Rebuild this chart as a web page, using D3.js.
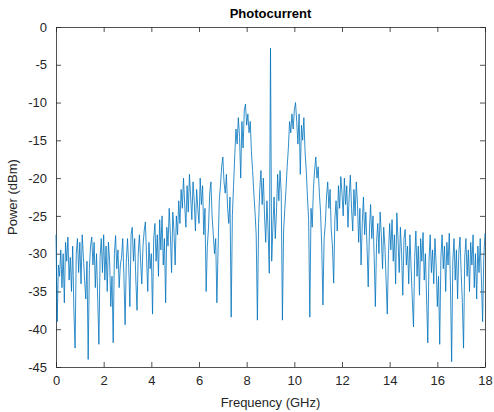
<html>
  <head>
    <meta charset="utf-8">
    <title>Photocurrent</title>
    <script src="https://cdnjs.cloudflare.com/ajax/libs/d3/7.8.5/d3.min.js"></script>
  </head>
  <body>
    <svg id="chart"></svg>

    <style>
      body {
        margin: 0;
        background: #fff;
        font-family: 'Liberation Sans', Arial, sans-serif;
      }
      #chart {
        display: block;
      }
      .axis path, .axis line {
        stroke: #262626;
        stroke-width: 0.8;
      }
      .axis text {
        fill: #262626;
        font-size: 13px;
        font-family: 'Liberation Sans', Arial, sans-serif;
      }
      .title {
        font-weight: bold;
        font-size: 13px;
        fill: #000;
      }
      .label {
        font-size: 13px;
        fill: #262626;
      }
    </style>

    <script>
      // Spectrum, one value every 0.05 GHz from 0 to 18 GHz (dBm)
      const freqStep = 0.05;
      const power = [
        // 0 - 0.95
        -27.5, -39.0, -31.5, -33.0, -29.5, -34.5, -30.0, -36.5, -28.5, -31.0,
        -27.8, -33.5, -30.5, -35.0, -29.0, -37.5, -42.5, -30.0, -28.0, -32.5,
        // 1 - 1.95
        -28.5, -34.0, -27.5, -30.5, -33.5, -36.0, -31.0, -44.0, -32.0, -29.0,
        -27.8, -31.5, -28.5, -34.5, -30.0, -36.0, -42.0, -30.5, -28.0, -32.5,
        // 2 - 2.95
        -27.5, -33.5, -29.0, -35.0, -28.5, -31.0, -37.0, -33.0, -41.8, -30.0,
        -27.6, -32.0, -29.5, -34.5, -31.5, -30.5, -28.0, -33.0, -39.4, -31.0,
        // 3 - 3.95
        -28.0, -31.5, -37.0, -27.5, -26.5, -31.0, -28.0, -33.5, -37.5, -30.0,
        -27.5, -31.0, -34.0, -29.0, -27.0, -25.8, -30.5, -35.0, -28.5, -32.0,
        // 4 - 4.95
        -30.0, -38.0, -28.0, -26.0, -31.0, -27.5, -33.0, -25.5, -29.5, -25.0,
        -31.5, -28.0, -36.5, -26.5, -29.0, -24.0, -27.5, -32.5, -24.5, -27.0,
        // 5 - 5.95
        -31.5, -25.0, -27.5, -23.0, -26.0, -21.5, -24.0, -20.0, -23.5, -26.5,
        -21.0, -24.5, -19.5, -22.5, -25.5, -20.5, -23.0, -27.0, -21.5, -24.0,
        // 6 - 6.95
        -26.0, -20.0, -23.5, -21.0, -27.5, -24.0, -35.0, -29.0, -26.5, -22.0,
        -20.5, -25.0, -27.5, -30.0, -28.0, -36.5, -29.5, -23.0, -21.0, -18.5,
        // 7 - 7.95
        -17.2, -20.5, -22.0, -19.5, -24.0, -26.0, -22.5, -38.4, -25.0, -21.0,
        -17.0, -13.5, -15.5, -12.0, -14.5, -20.0, -12.5, -16.0, -11.0, -10.2,
        // 8 - 8.95
        -13.0, -11.5, -14.0, -12.5, -16.5, -19.0, -22.0, -24.5, -27.5, -38.8,
        -26.0, -21.5, -19.0, -23.5, -20.0, -25.0, -28.5, -23.0, -27.0, -32.6,
        // 9 (carrier)
        -2.8,
        // 9.05 - 10
        -31.0, -26.5, -22.5, -28.0, -24.5, -19.5, -23.0, -19.0, -22.0, -38.8,
        -27.0, -24.0, -21.5, -18.5, -16.0, -12.5, -14.0, -11.5, -13.5, -11.0,
        // 10.05 - 11
        -10.0, -12.5, -15.5, -11.5, -19.5, -13.0, -15.0, -12.0, -16.5, -19.0,
        -22.5, -25.5, -38.4, -24.0, -26.5, -21.5, -19.0, -17.2, -20.0, -18.5,
        // 11.05 - 12
        -22.0, -24.5, -29.0, -36.8, -28.0, -26.0, -22.5, -20.5, -24.0, -21.5,
        -27.0, -29.0, -33.9, -25.5, -23.0, -27.0, -21.0, -24.0, -19.8, -22.0,
        // 12.05 - 13
        -25.0, -20.0, -23.5, -21.0, -26.5, -22.5, -19.6, -24.0, -27.0, -21.5,
        -25.0, -20.5, -23.5, -28.5, -24.0, -31.5, -26.0, -22.5, -27.5, -24.5,
        // 13.05 - 14
        -29.0, -34.4, -27.0, -23.5, -28.0, -25.0, -30.5, -37.0, -28.5, -26.0,
        -30.0, -24.5, -27.5, -32.0, -26.5, -29.0, -33.5, -38.0, -30.0, -26.0,
        // 14.05 - 15
        -29.5, -25.5, -31.0, -27.5, -34.0, -24.6, -28.0, -32.5, -26.5, -30.0,
        -35.5, -28.0, -26.8, -31.5, -29.0, -34.0, -27.5, -32.0, -36.0, -39.7,
        // 15.05 - 16
        -30.5, -27.0, -33.0, -29.0, -35.5, -28.0, -31.0, -27.2, -33.5, -30.0,
        -36.0, -41.8, -31.0, -27.5, -32.5, -29.5, -34.0, -28.0, -31.5, -37.0,
        // 16.05 - 17
        -33.0, -42.0, -30.5, -27.5, -32.0, -29.0, -35.0, -28.5, -31.5, -27.3,
        -34.0, -44.3, -31.0, -28.0, -33.5, -29.5, -36.0, -30.0, -27.8, -32.5,
        // 17.05 - 18
        -36.5, -42.5, -30.5, -28.0, -33.0, -29.5, -35.0, -28.5, -31.5, -27.5,
        -34.5, -30.0, -36.0, -29.0, -32.5, -28.0, -33.5, -39.0, -30.5, -27.3
      ];

      const xTicks = [0, 2, 4, 6, 8, 10, 12, 14, 16, 18];
      const yTicks = [0, -5, -10, -15, -20, -25, -30, -35, -40, -45];
      const titleText = 'Photocurrent';
      const xLabelText = 'Frequency (GHz)';
      const yLabelText = 'Power (dBm)';

      const W = 494, H = 412;
      const margin = {top: 27, right: 9, bottom: 45, left: 56};
      const width = W - margin.left - margin.right;
      const height = H - margin.top - margin.bottom;

      const data = power.map((p, i) => ({f: i * freqStep, p: p}));

      const svg = d3.select('#chart')
        .attr('width', W)
        .attr('height', H);

      const g = svg.append('g')
        .attr('transform', 'translate(' + margin.left + ',' + margin.top + ')');

      const x = d3.scaleLinear().domain([0, 18]).range([0, width]);
      const y = d3.scaleLinear().domain([-45, 0]).range([height, 0]);

      // plain hyphen for negatives, like the original
      const plain = d => String(d);

      // Axes with inward ticks, box on all four sides
      g.append('g')
        .attr('class', 'axis axis-x')
        .attr('transform', 'translate(0,' + height + ')')
        .call(d3.axisBottom(x).tickValues(xTicks).tickSizeInner(-5).tickSizeOuter(0).tickPadding(9)
          .tickFormat(plain));

      g.append('g')
        .attr('class', 'axis axis-top')
        .call(d3.axisTop(x).tickValues(xTicks).tickSizeInner(-5).tickSizeOuter(0).tickFormat(''));

      g.append('g')
        .attr('class', 'axis axis-y')
        .call(d3.axisLeft(y).tickValues(yTicks).tickSizeInner(-5).tickSizeOuter(0).tickPadding(9)
          .tickFormat(plain));

      g.append('g')
        .attr('class', 'axis axis-right')
        .attr('transform', 'translate(' + width + ',0)')
        .call(d3.axisRight(y).tickValues(yTicks).tickSizeInner(-5).tickSizeOuter(0).tickFormat(''));

      // Spectrum line
      const line = d3.line()
        .x(d => x(d.f))
        .y(d => y(d.p));

      g.append('path')
        .datum(data)
        .attr('fill', 'none')
        .attr('stroke', '#0072BD')
        .attr('stroke-width', 0.8)
        .attr('stroke-linejoin', 'round')
        .attr('d', line);

      // Title and labels
      svg.append('text')
        .attr('class', 'title')
        .attr('x', margin.left + width / 2)
        .attr('y', 18)
        .attr('text-anchor', 'middle')
        .text(titleText);

      svg.append('text')
        .attr('class', 'label')
        .attr('x', margin.left + width / 2)
        .attr('y', 407)
        .attr('text-anchor', 'middle')
        .text(xLabelText);

      svg.append('text')
        .attr('class', 'label')
        .attr('transform', 'translate(17,' + (margin.top + height / 2) + ') rotate(-90)')
        .attr('text-anchor', 'middle')
        .text(yLabelText);
    </script>
  </body>
</html>
